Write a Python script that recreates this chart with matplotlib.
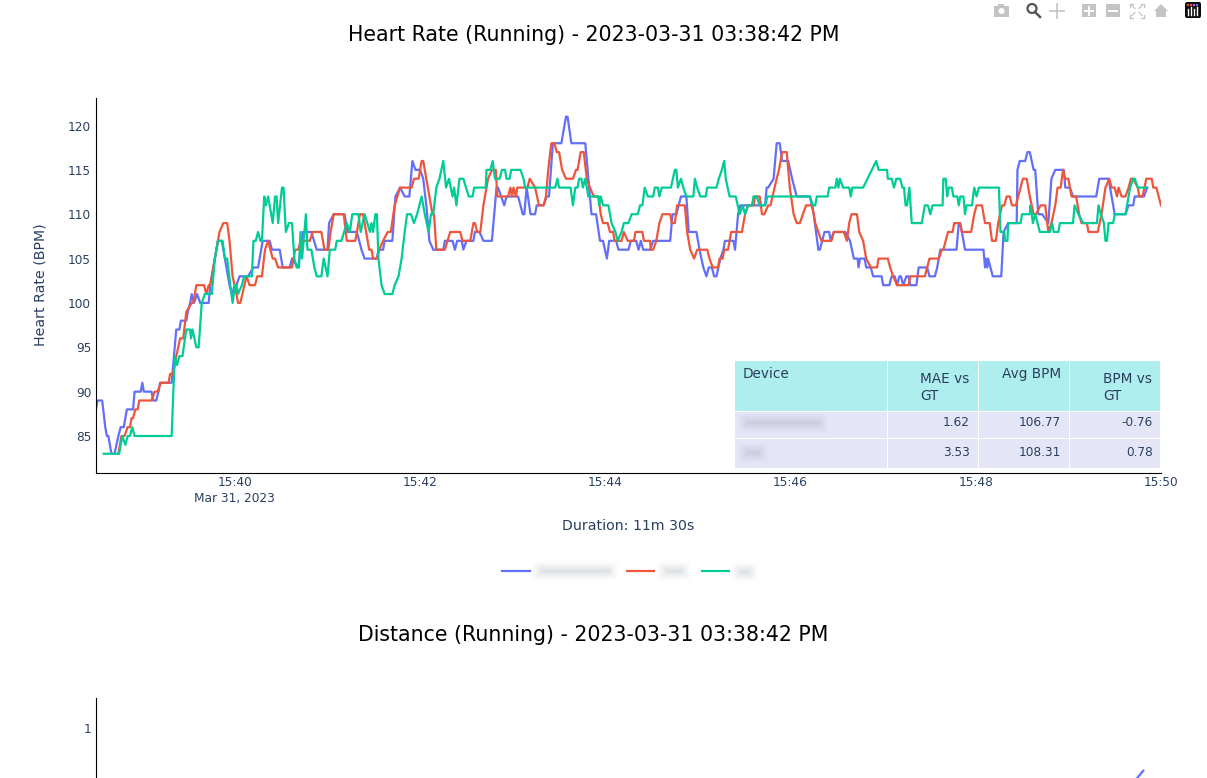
"""Heart rate comparison page: one running chart plus the top of the distance chart."""

from datetime import datetime, timedelta

import matplotlib
matplotlib.use("Agg")
import matplotlib.pyplot as plt
import numpy as np
from matplotlib.patches import FancyBboxPatch, Rectangle, Circle, Polygon

# (seconds after 15:38:30, BPM)
blue_points = [
    (0, 88), (1, 89), (4, 89), (6, 86), (7, 85), (8, 85), (10, 83), (12, 83), (14.5, 85), (16, 86), (18, 86),
    (20, 88), (24, 88), (25, 90), (29, 90), (30, 91), (31, 90), (36, 90), (37, 89), (39, 89), (40.5, 90), (41.5, 91),
    (49, 91), (52, 97), (54, 97), (55, 98), (58.5, 98), (59.5, 99), (61, 100), (62, 101), (63.5, 100), (65.5, 101),
    (67.5, 100), (73, 100), (74, 102), (77, 105), (79, 107), (81.5, 107), (83.5, 105), (86.5, 102), (88, 101),
    (90, 102), (91, 102), (93, 103), (98.5, 103), (102, 104), (105, 104), (108, 107), (112.5, 107), (114, 106),
    (119, 106), (121, 104), (125.5, 104), (127, 105), (131, 104), (134, 108), (139.5, 108), (143, 106), (150, 106),
    (151, 109), (154, 110), (161, 110), (163, 108), (169, 108), (172, 106), (174, 105), (182, 105), (183, 106),
    (186, 106), (187, 107), (192, 107), (194, 112), (197, 113), (200, 112), (203, 112), (205, 116), (207, 115),
    (210, 115), (212, 114), (214, 111), (216, 107), (218.5, 106), (225, 106), (226, 107), (231, 107), (232.5, 106),
    (234, 107), (237, 107), (238, 106), (240, 107), (244.5, 107), (245.5, 108), (248.5, 108), (251, 107), (256.5, 107),
    (258.5, 111), (259.5, 113), (260.5, 113), (262.5, 112), (264.5, 111), (266, 112), (273.5, 112), (276.5, 110),
    (277.5, 110), (279, 113), (281.5, 110), (284.5, 110), (285.5, 111), (290, 111), (292, 112), (293.5, 112), (296, 118),
    (301.5, 118), (304.5, 121), (305.5, 121), (308, 118), (317, 118), (319, 114), (321, 110), (324, 110), (326.5, 107),
    (328.5, 107), (331, 105), (332.5, 107), (337, 107), (338.5, 106), (345, 106), (346.5, 107), (350, 107), (351.5, 106),
    (353, 107), (354.5, 106), (359, 106), (361, 107), (372, 107), (373.5, 110), (376, 110), (379, 112), (382.5, 112),
    (384, 108), (389, 108), (391, 106), (393.5, 104), (395.5, 103), (397, 104), (399, 104), (400.5, 103), (402, 103),
    (404.5, 105), (406.5, 106), (407.5, 107), (413, 107), (414, 106), (416, 110), (417.5, 111), (425, 111), (433.5, 111),
    (434.5, 113), (435.5, 113), (439, 114), (441, 118), (443, 118), (444.5, 116), (448.5, 116), (451, 114), (454, 112),
    (462.5, 112), (465, 110), (468, 106), (469, 106), (472, 108), (475, 108), (476, 107), (478, 108), (485.5, 108),
    (488.5, 107), (491, 105), (493.5, 105), (494, 104), (495, 105), (498, 105), (499, 104), (502, 104), (503.5, 103),
    (509, 103), (510, 102), (514, 102), (515.5, 103), (517.5, 103), (519, 102), (520.5, 103), (521.5, 103), (523, 102),
    (525, 103), (526.5, 103), (527.5, 102), (531.5, 102), (533, 104), (538.5, 104), (540, 103), (543.5, 103), (545, 104),
    (547, 106), (557.5, 106), (559, 109), (560, 109), (563, 106), (575, 106), (576, 104), (576.5, 105), (577.5, 104),
    (578, 105), (579.5, 104), (581, 103), (586.5, 103), (588, 108), (591, 109), (596.5, 109), (597, 115), (598.5, 116),
    (602, 116), (603.5, 117), (605, 117), (607.5, 115), (608.5, 115), (610.5, 110), (613, 110), (617, 109), (619, 114),
    (621.5, 115), (627, 115), (628, 113), (631, 113), (633, 112), (648, 112), (650, 114), (656, 114), (658, 112),
    (660, 110), (667, 110), (669, 111), (672, 111), (673, 112), (679, 112), (681, 113),
]
red_points = [
    (14.5, 83), (16.5, 85), (18.5, 85), (20.5, 86), (22, 86), (23, 87), (24, 87), (25.5, 88), (27, 88), (28, 89),
    (36, 89), (38, 90), (40, 90), (42, 91), (47, 91), (48, 92), (50, 92), (52, 94), (54.5, 96), (56.5, 96), (58.5, 99),
    (62, 100), (63, 100), (65, 102), (70, 102), (71.5, 101), (73, 102), (74, 102), (77, 105), (79, 107), (80, 108),
    (82.5, 109), (85, 109), (86.5, 107), (88.5, 103), (91, 101), (92, 100), (93.5, 100), (97.5, 103), (99.5, 102),
    (103, 102), (104.5, 103), (107.5, 103), (109.5, 106), (111.5, 107), (114.5, 105), (116, 105), (118, 104), (127, 104),
    (129, 106), (131, 106), (132.5, 107), (138.5, 107), (140.5, 108), (146, 108), (148, 106), (150.5, 106), (152, 108),
    (154, 110), (160.5, 110), (162.5, 107), (168, 107), (169, 108), (171, 110), (173, 110), (175, 108), (177, 106),
    (178.5, 106), (179.5, 105), (182, 105), (183.5, 106), (186, 107), (189, 108), (191, 108), (193.5, 111), (197, 113),
    (204.5, 113), (206, 114), (209, 114), (211, 116), (212, 116), (214, 114), (215, 113), (218, 110), (219, 110),
    (220.5, 106), (226, 106), (229.5, 108), (236, 108), (237.5, 107), (242.5, 107), (244.5, 109), (245.5, 109), (247, 108),
    (249, 108), (251, 111), (254, 114), (256.5, 115), (259, 115), (260, 112), (267, 112), (268.5, 113), (269.5, 112),
    (270.5, 113), (272, 112), (273, 113), (279.5, 113), (281, 114), (284.5, 113), (287, 111), (290, 111), (291.5, 112),
    (293, 115), (295, 118), (297, 118), (298.5, 117), (300, 117), (302, 115), (304.5, 114), (309, 114), (311, 115),
    (312, 115), (314, 117), (316, 117), (318, 114), (320, 113), (322.5, 112), (325.5, 112), (327, 110), (328.5, 109),
    (331.5, 109), (333, 108), (335, 108), (336, 107), (340.5, 107), (342, 108), (344.5, 107), (348.5, 107), (349.5, 108),
    (354, 108), (355, 107), (359, 107), (359.5, 106), (361, 106), (363, 107), (365, 109), (367, 110), (372, 110),
    (373, 109), (375, 109), (376.5, 111), (381.5, 111), (383, 108), (385, 106), (387.5, 105), (389.5, 106), (396, 106),
    (397.5, 105), (399.5, 104), (403, 104), (404, 105), (406, 105), (407, 106), (409.5, 106), (411.5, 108), (418.5, 108),
    (420.5, 110), (422.5, 111), (426, 111), (427, 112), (430, 112), (431.5, 110), (433, 110), (435.5, 111), (437, 111),
    (441, 114), (442.5, 115), (444.5, 117), (447.5, 117), (449.5, 113), (452, 110), (454, 109), (456, 109), (458, 110),
    (460, 111), (464, 111), (466, 109), (468, 108), (470, 107), (476.5, 107), (478, 108), (484.5, 108), (486.5, 107),
    (488, 109), (489.5, 110), (493, 110), (494.5, 108), (497, 107), (499, 105), (502, 104), (506, 104), (507, 105),
    (513, 105), (514.5, 104), (516.5, 103), (519, 102), (526.5, 102), (527.5, 103), (537, 103), (540, 105), (546, 105),
    (548, 106), (549, 106), (552, 108), (555, 108), (556, 109), (559.5, 109), (561, 108), (567, 108), (569, 110),
    (570.5, 111), (574, 111), (576, 109), (579, 109), (580.5, 107), (583, 107), (584.5, 109), (587, 111), (588.5, 111),
    (590, 112), (592, 112), (593.5, 111), (596, 111), (597.5, 112), (600.5, 114), (603, 114), (605, 112), (607.5, 110),
    (609, 110), (612, 111), (615, 111), (617, 108), (619, 109), (621.5, 111), (623, 113), (625, 113), (626.5, 115),
    (628, 114), (630, 114), (632, 112), (635, 112), (637, 110), (638.5, 109), (642, 109), (643, 108), (649, 108),
    (651.5, 110), (654, 113), (656.5, 114), (658, 113), (660, 113), (661.5, 112), (662.5, 113), (664.5, 112), (667, 112),
    (669, 113), (670.5, 114), (672, 114), (675, 113), (676, 112), (678, 112), (680.5, 114), (684, 114), (685, 113),
    (687, 113), (688.5, 112), (690, 111),
]
green_points = [
    (5, 83), (15, 83), (17, 85), (19, 84), (20.5, 85), (22, 85), (23.5, 86), (25, 85), (49, 85), (51, 94), (52.5, 93),
    (54, 94), (56, 94), (58.5, 97), (61, 97), (61.5, 96), (62.5, 97), (65, 95), (66.5, 95), (68.5, 100), (70.5, 101),
    (75, 101), (77, 105), (79, 107), (82, 107), (83.5, 105), (85, 105), (87, 102), (88.5, 100), (90, 102), (91, 102),
    (92, 101), (94.5, 102), (96, 103), (101, 103), (102, 107), (103.5, 107), (105, 108), (106.5, 107), (107.5, 107),
    (109, 112), (110, 111), (111.5, 112), (114.5, 109), (116, 112), (117, 112), (118, 109), (120.5, 113), (121.5, 113),
    (123, 108), (125, 109), (127, 109), (128.5, 105), (130, 104), (131.5, 104), (132.5, 108), (133.5, 105), (136, 110),
    (137, 106), (139.5, 106), (141.5, 104), (143, 103), (146, 103), (147.5, 105), (150, 103), (151.5, 106), (155, 106),
    (156, 107), (159, 107), (162.5, 109), (164.5, 108), (166, 110), (168, 110), (170, 110), (171.5, 108), (174, 110),
    (177.5, 108), (178.5, 109), (179.5, 108), (181, 110), (182, 110), (183, 105), (185, 102), (187, 101), (192, 101),
    (193.5, 102), (196, 103), (198, 105), (200, 108), (201.5, 110), (204, 110), (206, 109), (208, 110), (211, 112),
    (213, 110), (215.5, 108), (217, 110), (218.5, 110), (220.5, 113), (222.5, 114), (225, 116), (226.8, 113), (228.7, 114),
    (231, 112), (232, 113), (233.5, 111), (235.5, 114), (238, 114), (241.5, 112), (244, 112), (245, 113), (252.5, 113),
    (253, 115), (255.5, 115), (257, 116), (258.5, 114), (261.5, 114), (263, 115), (265, 115), (266, 114), (268, 114),
    (269, 115), (275, 115), (277, 114), (278, 113), (297.5, 113), (299, 114), (300, 113), (307.5, 113), (309, 111),
    (310.5, 113), (312, 113), (313, 114), (314.5, 114), (315.5, 113), (317, 114), (319, 112), (325.5, 112), (326, 111),
    (327, 112), (328.5, 111), (332, 111), (334, 109), (336.5, 108), (338, 107), (340.5, 108), (342, 109), (345, 109),
    (347, 110), (351, 110), (352.5, 111), (354, 111), (355.5, 113), (357.5, 112), (361, 112), (362, 113), (364, 113),
    (365, 112), (366.5, 113), (372.5, 113), (375, 115), (376, 115), (377, 113), (379, 114), (380.5, 113), (382.5, 112),
    (387, 112), (388, 114), (389.5, 113), (391.5, 112), (395, 112), (396, 113), (402, 113), (403.5, 114), (405.5, 115),
    (407, 116), (408, 114), (410.5, 112), (414.5, 112), (417, 110), (419, 111), (420.5, 110), (422.5, 111), (425, 111),
    (426, 112), (428, 112), (430, 111), (433.5, 111), (435, 112), (462.5, 112), (464.5, 111), (466, 111), (467, 112),
    (474, 112), (475, 113), (479, 113), (480, 114), (481, 113), (482, 114), (484, 113), (488, 113), (489, 112), (490, 113),
    (497, 113), (505.5, 116), (507, 115), (512.5, 115), (513, 114), (515.5, 114), (517, 113), (518.5, 114), (521, 114),
    (522.5, 113), (523.5, 113), (524.5, 111), (525.5, 111), (527, 113), (528.5, 109), (535, 109), (537, 111), (539, 111),
    (540.5, 110), (542, 111), (548.5, 111), (549, 114), (550.5, 114), (551.5, 112), (552.5, 113), (554.5, 113), (555.5, 112),
    (558, 112), (559, 111), (560, 112), (562, 112), (563, 110), (564, 111), (567.5, 111), (569, 113), (570.5, 112),
    (572, 113), (585, 113), (586, 108), (588.5, 108), (589, 107), (590.5, 107), (591, 109), (599, 109), (600, 110),
    (605, 110), (605.5, 111), (607, 109), (608.5, 110), (611.5, 108), (618, 108), (619.5, 109), (620.5, 108), (623.5, 108),
    (624.5, 109), (633, 109), (634, 111), (636.5, 110), (639.5, 109), (648.5, 109), (649.5, 111), (651, 110), (653, 109),
    (654, 107), (655, 107), (656, 109), (659, 109), (660, 110), (667, 110), (670, 113), (672, 114), (673, 114), (675, 113),
    (681, 113),
]
distance_points = [(660, 0.675), (678.5, 0.82)]

series_colors = ["#636efa", "#EF553B", "#00cc96"]
x_tick_times = ["15:40", "15:42", "15:44", "15:46", "15:48", "15:50"]
y_ticks = [85, 90, 95, 100, 105, 110, 115, 120]

table_header = ["Device", "MAE vs\nGT", "Avg BPM", "BPM vs\nGT"]
mae_vs_gt = ["1.62", "3.53"]
avg_bpm = ["106.77", "108.31"]
bpm_vs_gt = ["-0.76", "0.78"]

TEXT = "#2a3f5f"
W, H = 1207, 778
start = datetime(2023, 3, 31, 15, 38, 30)


def to_times(points):
    return [start + timedelta(seconds=p[0]) for p in points]


def box(left, top, right, bottom):
    """Pixel box to figure fractions for add_axes."""
    return [left / W, 1 - bottom / H, (right - left) / W, (bottom - top) / H]


plt.rcParams["font.family"] = ["DejaVu Sans"]
fig = plt.figure(figsize=(W / 100, H / 100), dpi=100, facecolor="white")

ax = fig.add_axes(box(96, 98, 1161, 473))
for points, color in zip([blue_points, red_points, green_points], series_colors):
    ax.plot(to_times(points), [p[1] for p in points], color=color, lw=1.6, solid_joinstyle="round")
ax.set_xlim(start, start + timedelta(seconds=690))
ax.set_ylim(80.83, 123.1)
ax.set_yticks(y_ticks)
tick_dates = [datetime(2023, 3, 31, int(t[:2]), int(t[3:])) for t in x_tick_times]
ax.set_xticks(tick_dates)
ax.set_xticklabels([x_tick_times[0] + "\nMar 31, 2023"] + x_tick_times[1:], linespacing=1.35)
ax.tick_params(length=0, labelsize=8.7, labelcolor=TEXT)
ax.tick_params(axis="x", pad=2)
ax.tick_params(axis="y", pad=3.5)
for side in ["top", "right"]:
    ax.spines[side].set_visible(False)
for side in ["left", "bottom"]:
    ax.spines[side].set_linewidth(0.8)

# second chart, only its top shows on this page
ax2 = fig.add_axes(box(96, 698, 1161, 1073))
ax2.plot(to_times(distance_points), [p[1] for p in distance_points], color=series_colors[0], lw=1.6)
ax2.set_xlim(start, start + timedelta(seconds=690))
ax2.set_ylim(-0.46, 1.128)
ax2.set_yticks([1])
ax2.set_xticks([])
ax2.tick_params(length=0, labelsize=8.7, labelcolor=TEXT, pad=3.5)
for side in ["top", "right", "bottom"]:
    ax2.spines[side].set_visible(False)
ax2.spines["left"].set_linewidth(0.8)

# pixel overlay for page furniture: titles, table, legend, toolbar
page = fig.add_axes([0, 0, 1, 1], zorder=5)
page.set_xlim(0, W)
page.set_ylim(H, 0)
page.axis("off")
page.patch.set_alpha(0)

page.text(593.5, 35, "Heart Rate (Running) - 2023-03-31 03:38:42 PM", ha="center", va="center", fontsize=14.8, color="black")
page.text(593.5, 635, "Distance (Running) - 2023-03-31 03:38:42 PM", ha="center", va="center", fontsize=14.8, color="black")
page.text(40, 285, "Heart Rate (BPM)", rotation=90, ha="center", va="center", fontsize=10.2, color=TEXT)
page.text(628, 526, "Duration: 11m 30s", ha="center", va="center", fontsize=10.2, color=TEXT)


def blur(left, top, right, bottom, color="#9aa0ad"):
    """Soft grey smear standing in for a redacted label."""
    for grow, alpha in zip([6, 4.5, 3, 1.5, 0, -1.5, -3], [0.02, 0.03, 0.04, 0.05, 0.06, 0.07, 0.08]):
        page.add_patch(FancyBboxPatch((left - grow, top - grow), right - left + 2 * grow, bottom - top + 2 * grow,
                                      boxstyle="round,pad=0,rounding_size=4", fc=color, ec="none", alpha=alpha))


# table
col_edges = [735, 887.5, 978.5, 1069.5, 1160.5]
row_edges = [361, 412, 438.5, 468.5]
for i in range(4):
    for j in range(3):
        color = "#afeeee" if j == 0 else "#e5e5f8"
        page.add_patch(Rectangle((col_edges[i], row_edges[j]), col_edges[i + 1] - col_edges[i] - 1,
                                 row_edges[j + 1] - row_edges[j] - 1, fc=color, ec="none"))
page.text(743, 374, table_header[0], ha="left", va="center", fontsize=9.8, color=TEXT)
page.text(920, 387.5, table_header[1], ha="left", va="center", fontsize=9.8, color=TEXT, linespacing=1.3)
page.text(1061, 373.5, table_header[2], ha="right", va="center", fontsize=9.8, color=TEXT)
page.text(1103, 387.5, table_header[3], ha="left", va="center", fontsize=9.8, color=TEXT, linespacing=1.3)
for row_y, mae, avg, diff in zip([422, 452], mae_vs_gt, avg_bpm, bpm_vs_gt):
    page.text(970, row_y, mae, ha="right", va="center", fontsize=8.7, color=TEXT)
    page.text(1061, row_y, avg, ha="right", va="center", fontsize=8.7, color=TEXT)
    page.text(1153, row_y, diff, ha="right", va="center", fontsize=8.7, color=TEXT)
blur(744, 419, 822, 427)
blur(744, 449, 762, 457)

# legend
for (x0, x1), color in zip([(501, 531), (626, 655), (701, 730)], series_colors):
    page.plot([x0, x1], [570.5, 570.5], color=color, lw=1.6, solid_capstyle="butt")
blur(538, 567, 612, 575)
blur(663, 567, 685, 575)
blur(737, 568, 752, 576)

# toolbar icons
ICON = "#c4c4c4"
page.add_patch(Rectangle((994, 6), 15, 11, fc=ICON, ec="none"))
page.add_patch(Rectangle((998, 4), 6, 3, fc=ICON, ec="none"))
page.add_patch(Circle((1001.5, 11), 3, fc="white", ec="none"))
page.add_patch(Circle((1032, 8.5), 4.5, fc="white", ec="#555555", lw=1.6))
page.plot([1035, 1040], [12, 17], color="#555555", lw=1.8)
page.plot([1057, 1057], [4, 18], color=ICON, lw=1.2)
page.plot([1050, 1064], [11, 11], color=ICON, lw=1.2)
for cx, horizontal_only in [(1089, False), (1113, True)]:
    page.add_patch(Rectangle((cx - 7, 4), 14, 13, fc=ICON, ec="none"))
    page.plot([cx - 4, cx + 4], [10.5, 10.5], color="white", lw=1.4)
    if not horizontal_only:
        page.plot([cx, cx], [6.5, 14.5], color="white", lw=1.4)
for sx, sy in [(-1, -1), (1, -1), (-1, 1), (1, 1)]:
    cx, cy = 1137 + 7 * sx, 10.5 + 7 * sy
    page.plot([cx, cx - 3 * sx], [cy, cy], color=ICON, lw=0.9)
    page.plot([cx, cx], [cy, cy - 3 * sy], color=ICON, lw=0.9)
    page.plot([1137 + 2 * sx, 1137 + 5 * sx], [10.5 + 2 * sy, 10.5 + 5 * sy], color=ICON, lw=0.9)
page.add_patch(Polygon([(1154, 11), (1161, 4), (1168, 11), (1166, 11), (1166, 17), (1156, 17), (1156, 11)], fc=ICON, ec="none"))
page.add_patch(FancyBboxPatch((1185, 2), 16, 16, boxstyle="round,pad=0,rounding_size=2", fc="#0b0b0b", ec="none"))
for bar_x, bar_top in zip(np.arange(1188, 1199, 3), [9, 7, 9, 7]):
    page.plot([bar_x, bar_x], [bar_top, 15], color="white", lw=1.0)
page.scatter([1188, 1191, 1194, 1197], [5, 5, 5, 5], s=3, color=["#EF553B", "#EF553B", "#ab63fa", "#636efa"], linewidths=0)

fig.savefig("out.png", dpi=100)
plt.close(fig)
